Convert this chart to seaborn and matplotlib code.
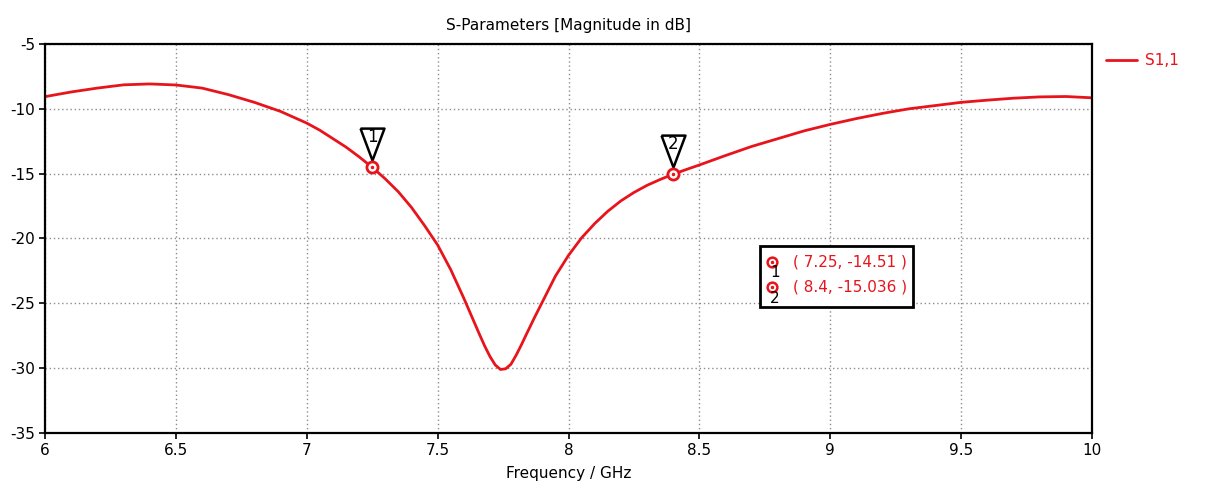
import matplotlib
matplotlib.use("Agg")
import matplotlib.pyplot as plt
import matplotlib.patches as mpatches
from matplotlib.ticker import FuncFormatter
import numpy as np
import pandas as pd
import seaborn as sns

# S1,1 (GHz, dB)
freq = [6.0, 6.1, 6.2, 6.3, 6.4, 6.5, 6.6, 6.7, 6.8, 6.9, 7.0, 7.05, 7.1, 7.15,
        7.2, 7.25, 7.3, 7.35, 7.4, 7.45, 7.5, 7.55, 7.6, 7.63, 7.66, 7.68, 7.7,
        7.72, 7.74, 7.76, 7.78, 7.8, 7.82, 7.84, 7.87, 7.9, 7.95, 8.0, 8.05,
        8.1, 8.15, 8.2, 8.25, 8.3, 8.35, 8.4, 8.45, 8.5, 8.6, 8.7, 8.8, 8.9,
        9.0, 9.1, 9.2, 9.3, 9.4, 9.5, 9.6, 9.7, 9.8, 9.9, 10.0]
s11 = [-9.06, -8.7, -8.4, -8.15, -8.08, -8.16, -8.4, -8.9, -9.5, -10.2, -11.1,
       -11.65, -12.3, -12.95, -13.7, -14.51, -15.4, -16.4, -17.6, -19.0, -20.5,
       -22.4, -24.6, -26.0, -27.4, -28.3, -29.1, -29.75, -30.1, -30.05, -29.7,
       -29.0, -28.2, -27.35, -26.1, -24.9, -22.9, -21.3, -19.95, -18.85,
       -17.9, -17.1, -16.45, -15.9, -15.45, -15.04, -14.68, -14.33, -13.6,
       -12.9, -12.3, -11.7, -11.2, -10.75, -10.35, -10.0, -9.75, -9.5, -9.33,
       -9.18, -9.08, -9.05, -9.15]

marker_ids = ["1", "2"]
marker_x = [7.25, 8.4]
marker_y = [-14.51, -15.036]
marker_txt = ["( 7.25, -14.51 )", "( 8.4, -15.036 )"]

x_ticks = [6, 6.5, 7, 7.5, 8, 8.5, 9, 9.5, 10]
y_ticks = [-35, -30, -25, -20, -15, -10, -5]

RED = "#e8141c"

sns.set_style("white")
plt.rcParams["font.family"] = ["DejaVu Sans"]
plt.rcParams["axes.unicode_minus"] = False
plt.rcParams["text.color"] = "black"
plt.rcParams["axes.labelcolor"] = "black"

df = pd.DataFrame({"Frequency / GHz": freq, "S1,1": s11})

fig = plt.figure(figsize=(12.06, 4.92), dpi=100)
ax = fig.add_axes([45 / 1206, 1 - 433 / 492, 1047 / 1206, 389 / 492])

sns.lineplot(data=df, x="Frequency / GHz", y="S1,1", ax=ax, color=RED,
             linewidth=2, label="S1,1")

ax.set_xlim(6, 10)
ax.set_ylim(-35, -5)
ax.set_xticks(x_ticks)
ax.set_yticks(y_ticks)
ax.xaxis.set_major_formatter(FuncFormatter(lambda v, p: f"{v:g}"))
ax.grid(True, color="#8c8c8c", linestyle=(0, (1, 2)), linewidth=1)
ax.tick_params(axis="both", direction="out", length=4, width=1.2,
               labelsize=11, colors="black", pad=3, left=True, bottom=True)
for s in ax.spines.values():
    s.set_color("black")
    s.set_linewidth(1.6)

ax.set_title("S-Parameters [Magnitude in dB]", fontsize=11, pad=10,
             color="black")
ax.set_xlabel("Frequency / GHz", fontsize=11, labelpad=6, color="black")
ax.set_ylabel("")

# marker triangles (apex sits just above the point)
tri = [(-12, 39), (12, 39), (0, 7), (-12, 39)]
for mid, mx, my in zip(marker_ids, marker_x, marker_y):
    ax.plot([mx], [my], marker=tri, markersize=56, markerfacecolor="white",
            markeredgecolor="black", markeredgewidth=1.8, zorder=5)
    ax.plot([mx], [my], marker="o", markersize=8, markerfacecolor="white",
            markeredgecolor=RED, markeredgewidth=2, zorder=6)
    ax.plot([mx], [my], marker="o", markersize=1.5, color=RED, zorder=7)
    ax.annotate(mid, xy=(mx, my), xytext=(0, 30), textcoords="offset pixels",
                ha="center", va="center", fontsize=12, zorder=8)

# marker value box
box = mpatches.Rectangle((0.683, 0.324), 0.146, 0.157, transform=ax.transAxes,
                         facecolor="white", edgecolor="black", linewidth=2,
                         zorder=9)
ax.add_patch(box)
rows_y = [0.44, 0.375]
for mid, txt, ry in zip(marker_ids, marker_txt, rows_y):
    ax.plot([0.694], [ry], marker="o", markersize=7, markerfacecolor="none",
            markeredgecolor=RED, markeredgewidth=1.8, transform=ax.transAxes,
            zorder=10)
    ax.plot([0.694], [ry], marker="o", markersize=1.5, color=RED,
            transform=ax.transAxes, zorder=10)
    ax.text(0.697, ry - 0.028, mid, transform=ax.transAxes, fontsize=11,
            ha="center", va="center", zorder=10)
    ax.text(0.714, ry, txt, transform=ax.transAxes, fontsize=11, color=RED,
            ha="left", va="center", zorder=10)

leg = ax.legend(loc="upper left", bbox_to_anchor=(1.005, 1.0), frameon=False,
                fontsize=11, handlelength=2.0, handletextpad=0.5,
                borderaxespad=0.2)
for t in leg.get_texts():
    t.set_color(RED)

fig.savefig("out.png", dpi=100)
